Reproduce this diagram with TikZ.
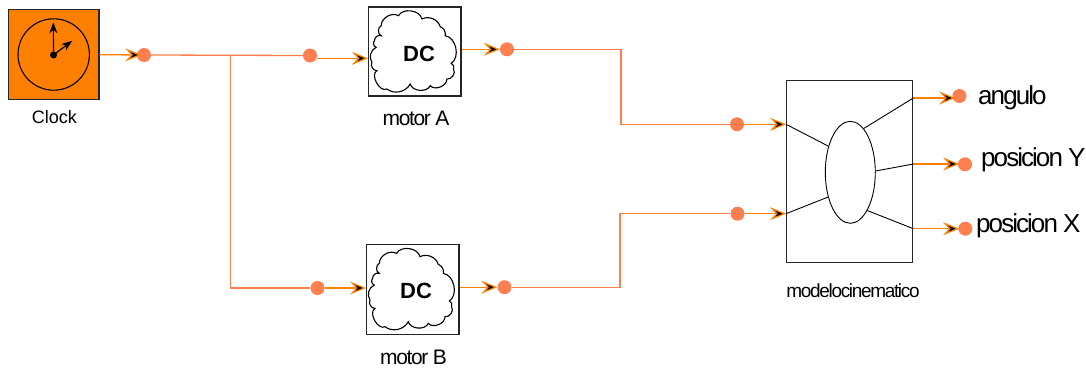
\documentclass[tikz,border=0pt]{standalone}
\usepackage{fontspec}
\usetikzlibrary{arrows.meta,calc,shapes.geometric}
\setmainfont{Liberation Sans}
\newfontfamily\tighta[LetterSpace=-6.5]{Liberation Sans}
\newfontfamily\tightb[LetterSpace=-7.5]{Liberation Sans}
\newfontfamily\tightc[LetterSpace=-7]{Liberation Sans}
\definecolor{sigA}{HTML}{FF8000}
\definecolor{sigB}{HTML}{FF7F4A}
\definecolor{dotc}{HTML}{FF7F50}
\tikzset{
  blockbox/.style={draw=black!85,line width=1.3pt,fill=white,rectangle,inner sep=0pt,minimum width=#1},
  probe/.style={circle,fill=dotc,inner sep=0pt,minimum size=14pt},
  chev/.style={-{Stealth[length=16pt,width=13pt,inset=6pt,line width=1.2pt,color=sigA,fill=black]}},
  infeed/.style={draw=sigA,line width=1.3pt,chev},
  wire/.style={draw=sigB,line width=1.3pt},
  thin wire/.style={draw=black,line width=.9pt},
  hand/.style={black,line width=1.2pt,-{Stealth[length=11pt,width=8pt]}},
  lab/.style={inner sep=0pt,font=\fontsize{18}{20}\selectfont},
  cloudline/.style={draw=black,line width=1.1pt,fill=white},
  dctext/.style={inner sep=0pt,font=\fontsize{22}{24}\selectfont\bfseries},
  pics/dccloud/.style={code={
    \draw[cloudline] (-42.8,10.8) to[bend left=50] (-38.5,-4.2) to[bend left=60] (-40.2,-10.8)
      to[bend left=60] (-33.5,-15.8) to[bend left=70] (-33.5,-25.8) to[bend left=60] (-16.2,-35.8)
      to[bend left=70] (7.2,-32.5) to[bend left=50] (25.5,-24.8) to[bend left=40] (30.5,-15.8)
      to[bend left=70] (36.5,11.8) to[bend left=50] (38.8,17.5) to[bend left=70] (32.2,27.5)
      to[bend left=70] (15.5,34.2) to[bend left=70] (-4.5,32.5) to[bend left=50] (-27.8,37.5)
      to[bend left=90] (-37.8,19.2) to[bend left=60] cycle;
  }}
}
\begin{document}
\begin{tikzpicture}[x=1pt,y=-1pt]
\useasboundingbox (0,0) rectangle (1086,367);
% blocks
\node[blockbox=90.3pt,minimum height=90pt,fill=sigA] (clock) at (53.8,54.7) {};
\node[circle,draw=black,line width=1.1pt,inner sep=0pt,minimum size=71.4pt] (face) at (53.7,54.5) {};
\node[circle,fill=black,inner sep=0pt,minimum size=7pt] (hub) at (53.5,55) {};
\coordinate (hand1) at (53.3,22.3);
\coordinate (hand2) at (72.3,40.7);
\draw[hand] (hub.center) -- (hand1);
\draw[hand] (hub.center) -- (hand2);
\node[lab] (clocklab) at (54.5,117) {Clock};

\node[blockbox=92.3pt,minimum height=89pt] (motorA) at (414.7,51.5) {};
\pic at (motorA.center) {dccloud};
\node[dctext] (dcA) at (419,53.5) {DC};
\node[lab,font=\fontsize{21}{23}\selectfont\tighta] (labA) at (416,118.5) {motor A};

\node[blockbox=92.3pt,minimum height=90pt] (motorB) at (412.8,289.2) {};
\pic at (motorB.center) {dccloud};
\node[dctext] (dcB) at (416,290.5) {DC};
\node[lab,font=\fontsize{21}{23}\selectfont\tighta] (labB) at (413.5,357.5) {motor B};

\node[blockbox=126pt,minimum height=182.4pt] (model) at (849.7,171.5) {};
\node[ellipse,draw=black,line width=.9pt,inner sep=0pt,minimum width=50pt,minimum height=102pt] (core) at (850.3,172.3) {};
\node[lab,font=\fontsize{19}{21}\selectfont\tightc] (labM) at (853,291) {modelocinematico};

% probes
\node[probe] (p1) at (144,55) {};
\node[probe] (p2) at (310,55.5) {};
\node[probe] (p3) at (317.5,288) {};
\node[probe] (p4) at (507,49.3) {};
\node[probe] (p5) at (504.5,287.2) {};
\node[probe] (p6) at (737,124.3) {};
\node[probe] (p7) at (737.5,213.7) {};
\node[probe] (p8) at (959.4,96) {};
\node[probe] (p9) at (965,164.3) {};
\node[probe] (p10) at (965.3,228.7) {};

% output labels
\node[lab,font=\fontsize{26}{28}\selectfont\tightb,anchor=west] (lang) at (978,98) {angulo};
\node[lab,font=\fontsize{26}{28}\selectfont\tightb,anchor=west] (lposy) at (981,160) {posicion Y};
\node[lab,font=\fontsize{26}{28}\selectfont\tightb,anchor=west] (lposx) at (976,226) {posicion X};

% free coordinates
\coordinate (j1) at (230.5,55);
\coordinate (inA) at (motorA.west |- 0,58.3);
\coordinate (inB) at (motorB.west |- p3);
\coordinate (outA) at (motorA.east |- p4);
\coordinate (outB) at (motorB.east |- p5);
\coordinate (bend1a) at (621,49.3);
\coordinate (bend1b) at (621,124.3);
\coordinate (bend2a) at (620,287.2);
\coordinate (bend2b) at (620,213.7);
\coordinate (in1) at (model.west |- p6);
\coordinate (in2) at (model.west |- p7);
\coordinate (o1) at (model.east |- 0,98);
\coordinate (o2) at (model.east |- 0,164);
\coordinate (o3) at (model.east |- 0,228.7);

% signals
\draw[infeed,shorten >=-4.5pt] (clock.east) -- (p1);
\draw[wire] (p1.east) -- (p2.west);
\draw[wire] (j1) -- (j1 |- p3) -- (p3.west);
\draw[infeed] (p2.east |- inA) -- (inA);
\draw[infeed] (p3.east) -- (inB);
\draw[infeed] (outA) -- (p4.west);
\draw[infeed] (outB) -- (p5.west);
\draw[wire] (p4.east) -- (bend1a) -- (bend1b) -- (p6.west);
\draw[wire] (p5.east) -- (bend2a) -- (bend2b) -- (p7.west);
\draw[infeed] (p6.east) -- (in1);
\draw[infeed] (p7.east) -- (in2);
\draw[infeed,shorten >=-3pt] (o1) -- (p8.west |- o1);
\draw[infeed,shorten >=-1.3pt] (o2) -- (p9.west |- o2);
\draw[infeed,shorten >=-1pt] (o3) -- (p10.west);

% internal lines
\draw[thin wire] (in1) -- (core.130);
\draw[thin wire] (in2) -- (core.228);
\draw[thin wire] (o1) -- (core.73);
\draw[thin wire] (o2) -- (core.3);
\draw[thin wire] (o3) -- (core.-66);
\end{tikzpicture}
\end{document}
